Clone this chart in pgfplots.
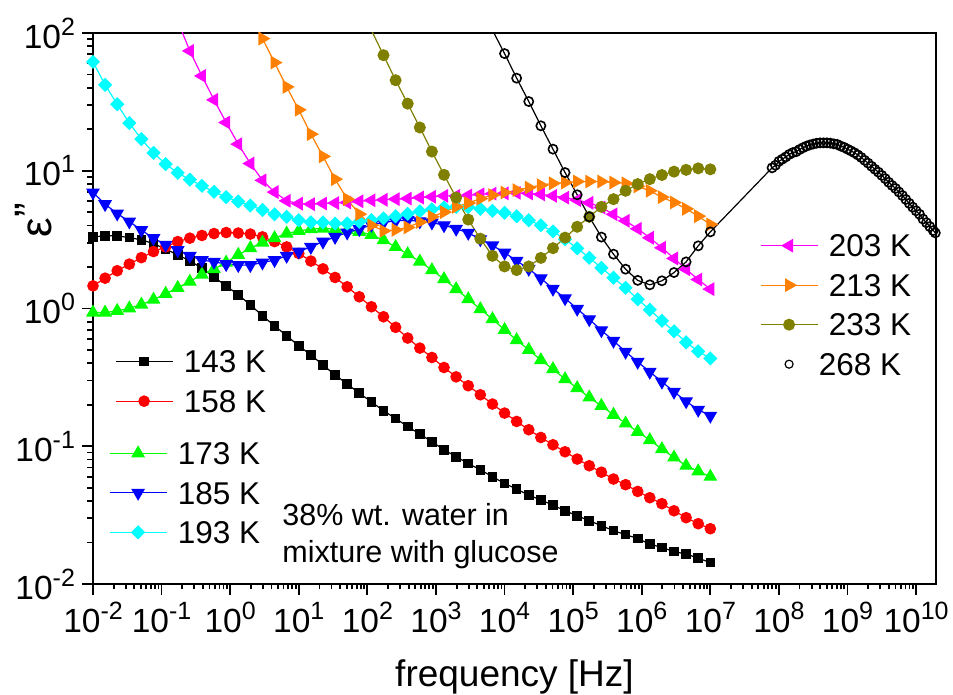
\documentclass[border=0pt]{standalone}
\usepackage{fontspec}
\setmainfont{Liberation Sans}
\usepackage{pgfplots}
\usepackage{pgfplotstable}
\pgfplotsset{compat=1.18}

\definecolor{cgreen}{RGB}{0,255,0}
\definecolor{cblue}{RGB}{0,0,255}
\definecolor{ccyan}{RGB}{0,255,255}
\definecolor{cmag}{RGB}{255,0,255}
\definecolor{corange}{RGB}{255,128,0}
\definecolor{colive}{RGB}{128,128,0}

% power-of-ten tick label in the text font
\newcommand{\pw}[1]{10\raisebox{6.5pt}{\fontsize{12.5pt}{12.5pt}\selectfont #1}}

% dielectric loss of the supercooled mixture, 143 K ... 233 K
\pgfplotstableread{
f        T143    T158    T173    T185    T193    T203    T213    T233
1.000e-2 3.31    1.46    0.935   6.95    61.7    nan     nan     nan
1.501e-2 3.37    1.66    0.935   5.72    42.0    nan     nan     nan
2.254e-2 3.37    1.88    0.962   4.89    30.4    nan     nan     nan
3.384e-2 3.27    2.10    1.003   4.28    22.2    nan     nan     nan
5.080e-2 3.15    2.34    1.069   3.71    16.96   nan     nan     nan
7.627e-2 2.96    2.59    1.160   3.24    13.49   nan     nan     nan
1.145e-1 2.70    2.80    1.279   2.90    11.17   nan     nan     nan
1.719e-1 2.45    3.06    1.413   2.65    9.66    122     nan     nan
2.581e-1 2.22    3.24    1.567   2.41    8.62    74.1    nan     nan
3.874e-1 1.96    3.39    1.765   2.245   7.77    48.8    nan     nan
5.816e-1 1.69    3.50    1.931   2.183   7.03    32.7    nan     nan
8.733e-1 1.46    3.56    2.157   2.100   6.43    22.4    nan     nan
1.311    1.257   3.53    2.453   2.065   5.98    15.6    nan     nan
1.968    1.064   3.47    2.744   2.065   5.59    11.28   140     nan
2.955    0.885   3.31    3.013   2.157   5.19    8.52    91.1    nan
4.436    0.749   3.06    3.244   2.245   4.83    7.00    61.0    nan
6.660    0.634   2.80    3.502   2.41    4.63    6.05    40.6    nan
1.000e1  0.536   2.51    3.664   2.59    4.37    5.77    27.7    nan
1.501e1  0.461   2.21    3.770   2.80    4.22    5.72    18.44   nan
2.254e1  0.388   1.94    3.808   3.06    4.21    5.78    12.72   nan
3.384e1  0.330   1.68    3.770   3.31    4.14    5.83    8.69    nan
5.080e1  0.283   1.437   3.707   3.56    4.14    5.88    6.22    nan
7.627e1  0.243   1.216   3.603   3.77    4.26    6.00    4.84    160
1.145e2  0.210   1.029   3.426   4.05    4.38    6.10    4.02    104.8
1.719e2  0.181   0.871   3.136   4.21    4.51    6.15    3.66    69.0
2.581e2  0.159   0.730   2.80    4.33    4.67    6.22    3.72    45.4
3.874e2  0.139   0.610   2.482   4.38    4.87    6.28    3.88    30.7
5.816e2  0.1226  0.516   2.193   4.29    5.08    6.39    4.24    20.6
8.733e2  0.1078  0.441   1.899   4.21    5.25    6.47    4.63    13.78
1.311e3  0.0943  0.373   1.635   4.02    5.41    6.57    5.01    9.34
1.968e3  0.0839  0.319   1.383   3.79    5.47    6.57    5.47    6.39
2.955e3  0.0750  0.275   1.170   3.54    5.44    6.63    5.83    4.42
4.436e3  0.0675  0.2364  0.990   3.18    5.29    6.74    6.27    3.21
6.660e3  0.0601  0.2024  0.838   2.87    5.12    6.82    6.66    2.41
1.000e4  0.0537  0.1741  0.700   2.54    4.95    6.85    6.95    2.02
1.501e4  0.0489  0.1514  0.590   2.22    4.67    6.91    7.23    1.90
2.254e4  0.0442  0.1318  0.5015  1.94    4.37    6.85    7.55    2.02
3.384e4  0.0407  0.1158  0.422   1.657   4.02    6.74    7.86    2.33
5.080e4  0.0374  0.1025  0.363   1.390   3.63    6.57    8.10    2.74
7.627e4  0.0340  0.0912  0.307   1.186   3.18    6.38    8.21    3.27
1.145e5  0.0313  0.0807  0.2645  0.995   2.735   6.12    8.35    3.92
1.719e5  0.0288  0.0722  0.226   0.835   2.333   5.85    8.35    4.63
2.581e5  0.0265  0.0648  0.1967  0.695   1.974   5.41    8.35    5.47
3.874e5  0.0244  0.0578  0.1693  0.583   1.671   4.83    8.21    6.22
5.816e5  0.0228  0.0526  0.1464  0.485   1.413   4.33    8.10    7.15
8.733e5  0.0214  0.0470  0.1274  0.410   1.166   3.79    7.70    8.00
1.311e6  0.0195  0.0423  0.1109  0.347   0.979   3.26    7.15    8.69
1.968e6  0.0184  0.0383  0.0954  0.294   0.814   2.76    6.43    9.31
2.955e6  0.0172  0.0340  0.0829  0.2486  0.683   2.31    5.88    9.85
4.436e6  0.0165  0.0303  0.0722  0.212   0.568   1.925   5.29    10.15
6.660e6  0.0154  0.0274  0.0658  0.184   0.489   1.623   4.68    10.41
1.000e7  0.0143  0.0252  0.0601  0.1665  0.434   1.383   4.08    10.24
}\lowT

% 268 K: low-frequency sweep and high-frequency reflectometry
\pgfplotstableread{
f        e
6.660e3  105
1.000e4  70.9
1.501e4  47.0
2.254e4  31.8
3.384e4  21.2
5.080e4  14.35
7.627e4  9.70
1.145e5  6.69
1.719e5  4.63
2.581e5  3.30
3.874e5  2.48
5.816e5  1.93
8.733e5  1.60
1.311e6  1.486
1.968e6  1.589
2.955e6  1.825
4.436e6  2.18
6.660e6  2.85
1.000e7  3.60
7.943e7  10.50
8.913e7  10.96
1.000e8  11.70
1.122e8  12.14
1.259e8  12.60
1.413e8  13.13
1.585e8  13.53
1.778e8  13.74
1.995e8  14.25
2.239e8  14.69
2.512e8  15.09
2.818e8  15.39
3.162e8  15.63
3.548e8  15.84
3.981e8  15.94
4.467e8  15.94
5.012e8  15.94
5.623e8  15.86
6.310e8  15.68
7.079e8  15.52
7.943e8  15.11
8.913e8  14.79
1.000e9  14.35
1.122e9  13.94
1.259e9  13.51
1.413e9  13.02
1.585e9  12.49
1.778e9  11.90
1.995e9  11.36
2.239e9  10.78
2.512e9  10.25
2.818e9  9.77
3.162e9  9.25
3.548e9  8.76
3.981e9  8.25
4.467e9  7.82
5.012e9  7.44
5.623e9  7.01
6.310e9  6.61
7.079e9  6.19
7.943e9  5.80
8.913e9  5.44
1.000e10 5.12
1.122e10 4.83
1.259e10 4.46
1.413e10 4.20
1.585e10 3.93
1.778e10 3.68
1.905e10 3.54
}\warmT

\pgfplotsset{
  frame/.style={at={(0,0)}, anchor=south west, scale only axis,
    width=421.5pt, height=275.5pt},
  keyonly/.style={frame, hide axis, xmin=0, xmax=1, ymin=0, ymax=1,
    legend cell align=left,
    legend style={draw=none, fill=none, inner sep=0pt, outer sep=0pt,
      anchor=north west, font=\fontsize{15.75pt}{15.75pt}\selectfont,
      row sep=8.45pt, column sep=5.35pt,
      nodes={inner sep=0pt, text height=11.3pt, text depth=0pt}},
    legend image code/.code={\draw[mark repeat=2,mark phase=2,##1]
      plot coordinates {(0pt,0pt) (14.25pt,0pt) (28.5pt,0pt)};}},
  ser/.style={line width=0.6pt},
}

\begin{document}
\begin{tikzpicture}
\begin{axis}[frame,
  xmode=log, ymode=log,
  xmin=1e-2, xmax=1.95e10, ymin=1e-2, ymax=1e2,
  axis line style={line width=1pt},
  tick align=outside, xtick pos=bottom, ytick pos=left,
  major tick length=5.5pt, minor tick length=2.75pt,
  every tick/.style={black, line width=0.9pt},
  xtick={1e-2,1e-1,1,1e1,1e2,1e3,1e4,1e5,1e6,1e7,1e8,1e9,1e10},
  xticklabels={\pw{-2},\pw{-1},\pw{0},\pw{1},\pw{2},\pw{3},\pw{4},\pw{5},\pw{6},\pw{7},\pw{8},\pw{9},\pw{10}},
  minor xtick={2e-2,3e-2,4e-2,5e-2,6e-2,7e-2,8e-2,9e-2,
    2e-1,3e-1,4e-1,5e-1,6e-1,7e-1,8e-1,9e-1,
    2,3,4,5,6,7,8,9,
    2e1,3e1,4e1,5e1,6e1,7e1,8e1,9e1,
    2e2,3e2,4e2,5e2,6e2,7e2,8e2,9e2,
    2e3,3e3,4e3,5e3,6e3,7e3,8e3,9e3,
    2e4,3e4,4e4,5e4,6e4,7e4,8e4,9e4,
    2e5,3e5,4e5,5e5,6e5,7e5,8e5,9e5,
    2e6,3e6,4e6,5e6,6e6,7e6,8e6,9e6,
    2e7,3e7,4e7,5e7,6e7,7e7,8e7,9e7,
    2e8,3e8,4e8,5e8,6e8,7e8,8e8,9e8,
    2e9,3e9,4e9,5e9,6e9,7e9,8e9,9e9},
  ytick={1e-2,1e-1,1,1e1,1e2},
  yticklabels={\pw{-2},\pw{-1},\pw{0},\pw{1},\pw{2}},
  minor ytick={2e-2,3e-2,4e-2,5e-2,6e-2,7e-2,8e-2,9e-2,
    2e-1,3e-1,4e-1,5e-1,6e-1,7e-1,8e-1,9e-1,
    2,3,4,5,6,7,8,9,
    2e1,3e1,4e1,5e1,6e1,7e1,8e1,9e1},
  tick label style={font=\fontsize{16.75pt}{16.75pt}\selectfont},
  xlabel={frequency [Hz]},
  every axis x label/.style={at={(axis description cs:0.5,-0.1864)},
    anchor=base, font=\fontsize{18.5pt}{18.5pt}\selectfont},
  ylabel={ε\raisebox{3pt}{\symbol{34}}},
  every axis y label/.style={at={(axis description cs:-0.071,0.66)},
    rotate=90, anchor=center, font=\fontsize{22pt}{22pt}\selectfont},
]
\addplot[ser, black, mark=square*, mark size=2.1pt] table[x=f,y=T143] {\lowT};
\addplot[ser, red, mark=*, mark size=2.6pt] table[x=f,y=T158] {\lowT};
\addplot[ser, cgreen, mark=triangle*, mark size=3.4pt] table[x=f,y=T173] {\lowT};
\addplot[ser, cblue, mark=triangle*, mark size=3.4pt, mark options={rotate=180}] table[x=f,y=T185] {\lowT};
\addplot[ser, ccyan, mark=square*, mark size=2.2pt, mark options={rotate=45}] table[x=f,y=T193] {\lowT};
\addplot[ser, cmag, mark=triangle*, mark size=3.4pt, mark options={rotate=90}] table[x=f,y=T203] {\lowT};
\addplot[ser, corange, mark=triangle*, mark size=3.4pt, mark options={rotate=-90}] table[x=f,y=T213] {\lowT};
\addplot[ser, colive, mark=*, mark size=2.7pt] table[x=f,y=T233] {\lowT};
\addplot[ser, black, mark=o, mark size=2.3pt, mark options={line width=0.8pt}] table[x=f,y=e] {\warmT};
\node[anchor=north west, align=left, inner sep=0pt,
  font=\fontsize{15.25pt}{18.5pt}\selectfont]
  at (axis description cs:0.2242,0.147) {38\% wt. water in\\mixture with glucose};
\end{axis}

\begin{axis}[keyonly, legend style={at={(axis description cs:0.0261,0.424)}}]
\addlegendimage{ser, black, mark=square*, mark size=2.1pt}
\addlegendentry{143 K}
\addlegendimage{ser, red, mark=*, mark size=2.6pt}
\addlegendentry{158 K}
\end{axis}

\begin{axis}[keyonly, legend style={at={(axis description cs:0.0190,0.2577)}}]
\addlegendimage{ser, cgreen, mark=triangle*, mark size=3.4pt}
\addlegendentry{173 K}
\addlegendimage{ser, cblue, mark=triangle*, mark size=3.4pt, mark options={rotate=180}}
\addlegendentry{185 K}
\addlegendimage{ser, ccyan, mark=square*, mark size=2.2pt, mark options={rotate=45}}
\addlegendentry{193 K}
\end{axis}

\begin{axis}[keyonly, legend style={at={(axis description cs:0.7912,0.6345)}}]
\addlegendimage{ser, cmag, mark=triangle*, mark size=3.4pt, mark options={rotate=90}}
\addlegendentry{203 K}
\addlegendimage{ser, corange, mark=triangle*, mark size=3.4pt, mark options={rotate=-90}}
\addlegendentry{213 K}
\addlegendimage{ser, colive, mark=*, mark size=2.7pt}
\addlegendentry{233 K}
\addlegendimage{only marks, black, mark=o, mark size=2pt, mark options={line width=0.6pt}}
\addlegendentry{\hspace*{-5pt}268 K}
\end{axis}

\pgfresetboundingbox
\path[use as bounding box] (-46.5pt,-55.5pt) rectangle (430pt,292pt);
\end{tikzpicture}
\end{document}
